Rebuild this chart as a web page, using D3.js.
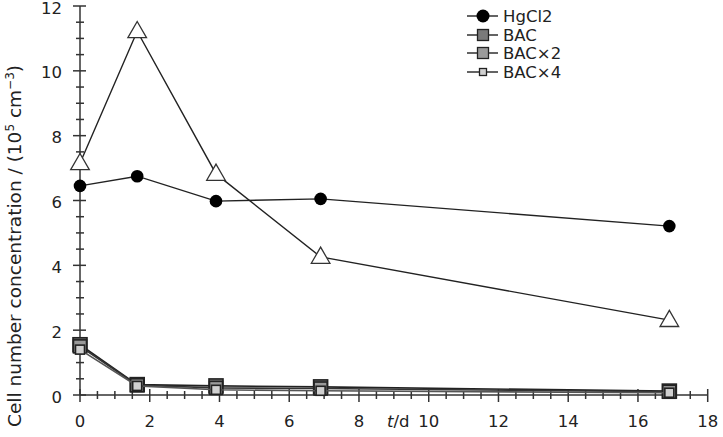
<!DOCTYPE html>
<html><head><meta charset="utf-8">
<script src="https://cdn.jsdelivr.net/npm/d3@7"></script>
<style>body{margin:0;background:#fff}svg{display:block}text{font-family:"DejaVu Sans",sans-serif;fill:#222}</style>
</head><body>
<svg id="c" width="723" height="437"></svg>
<script>
const days = [0, 1.64, 3.9, 6.9, 16.9];
const triangleSeries = [7.15, 11.22, 6.82, 4.26, 2.31];
const hgcl2 = [6.45, 6.75, 5.98, 6.05, 5.21];
const bac = [1.55, 0.32, 0.28, 0.25, 0.12];
const bac2 = [1.5, 0.3, 0.22, 0.2, 0.1];
const bac4 = [1.4, 0.28, 0.16, 0.13, 0.07];
const legendLabels = ["HgCl2", "BAC", "BAC×2", "BAC×4"];
const xTicks = [0, 2, 4, 6, 8, 10, 12, 14, 16, 18];
const yTicks = [0, 2, 4, 6, 8, 10, 12];

const svg = d3.select("#c");
const x = d3.scaleLinear().domain([0, 18]).range([80, 707.7]);
const y = d3.scaleLinear().domain([0, 12]).range([395, 6]);
const axisColor = "#333";

svg.append("line").attr("x1", x(0)).attr("x2", x(18)).attr("y1", y(0)).attr("y2", y(0)).attr("stroke", axisColor).attr("stroke-width", 1.5);
svg.append("line").attr("x1", x(0)).attr("x2", x(0)).attr("y1", y(0)).attr("y2", y(12)).attr("stroke", axisColor).attr("stroke-width", 1.5);

const xMinor = d3.range(0, 18.01, 0.5);
svg.append("g").selectAll("line").data(xMinor).join("line")
  .attr("x1", d => x(d)).attr("x2", d => x(d))
  .attr("y1", d => y(0) - (d % 2 === 0 ? 6 : 4))
  .attr("y2", d => y(0) + (d % 2 === 0 ? 7 : 4))
  .attr("stroke", axisColor).attr("stroke-width", 1.5);
const yMinor = d3.range(0, 12.01, 0.5);
svg.append("g").selectAll("line").data(yMinor).join("line")
  .attr("y1", d => y(d)).attr("y2", d => y(d))
  .attr("x1", d => x(0) - (d % 2 === 0 ? 7 : 4))
  .attr("x2", d => x(0) + (d % 2 === 0 ? 6 : 4))
  .attr("stroke", axisColor).attr("stroke-width", 1.5);

svg.append("g").selectAll("text").data(xTicks).join("text")
  .attr("x", d => x(d)).attr("y", 427).attr("text-anchor", "middle")
  .attr("font-size", 16.5).text(d => d);
svg.append("g").selectAll("text").data(yTicks).join("text")
  .attr("x", 62).attr("y", d => y(d) + 7.5).attr("text-anchor", "end")
  .attr("font-size", 16.5).text(d => d);

const xl = svg.append("text").attr("x", 387).attr("y", 427).attr("font-size", 16.5);
xl.append("tspan").attr("font-style", "italic").text("t");
xl.append("tspan").text("/d");

const yl = svg.append("text").attr("transform", "translate(21,246) rotate(-90)")
  .attr("text-anchor", "middle").attr("font-size", 18.5);
yl.append("tspan").text("Cell number concentration / (10");
yl.append("tspan").attr("font-size", 12).attr("dy", -7).text("5");
yl.append("tspan").attr("dy", 7).text(" cm");
yl.append("tspan").attr("font-size", 12).attr("dy", -7).text("−3");
yl.append("tspan").attr("dy", 7).text(")");

const line = d3.line().x(d => x(d[0])).y(d => y(d[1]));
const pts = vals => days.map((d, i) => [d, vals[i]]);

function drawLine(vals, color, w) {
  svg.append("path").attr("d", line(pts(vals))).attr("fill", "none")
    .attr("stroke", color).attr("stroke-width", w);
}

drawLine(triangleSeries, "#222", 1.4);
const tri = d3.symbol().type(d3.symbolTriangle).size(150);
svg.append("g").selectAll("path").data(pts(triangleSeries)).join("path")
  .attr("d", tri).attr("transform", d => `translate(${x(d[0])},${y(d[1]) + 1})`)
  .attr("fill", "#fff").attr("stroke", "#333").attr("stroke-width", 1.3);

drawLine(hgcl2, "#222", 1.4);
svg.append("g").selectAll("circle").data(pts(hgcl2)).join("circle")
  .attr("cx", d => x(d[0])).attr("cy", d => y(d[1])).attr("r", 6.3).attr("fill", "#000");

const squareDefs = [
  {vals: bac, fill: "#7a7a7a", size: 14, line: "#222"},
  {vals: bac2, fill: "#9a9a9a", size: 13, line: "#333"},
  {vals: bac4, fill: "#d0d0d0", size: 9, line: "#555"}
];
squareDefs.forEach(s => {
  drawLine(s.vals, s.line, 1.6);
  svg.append("g").selectAll("rect").data(pts(s.vals)).join("rect")
    .attr("x", d => x(d[0]) - s.size / 2).attr("y", d => y(d[1]) - s.size / 2)
    .attr("width", s.size).attr("height", s.size)
    .attr("fill", s.fill).attr("stroke", "#222").attr("stroke-width", 1.6);
});

const legY = [16, 35, 53, 72];
const lg = svg.append("g");
legendLabels.forEach((lab, i) => {
  const yy = legY[i];
  lg.append("line").attr("x1", 467).attr("x2", 498).attr("y1", yy).attr("y2", yy).attr("stroke", "#222").attr("stroke-width", 1.4);
  if (i === 0) {
    lg.append("circle").attr("cx", 483).attr("cy", yy).attr("r", 6.5).attr("fill", "#000");
  } else {
    const s = squareDefs[i - 1];
    const sz = i === 3 ? 7 : 11;
    lg.append("rect").attr("x", 483 - sz / 2).attr("y", yy - sz / 2).attr("width", sz).attr("height", sz)
      .attr("fill", s.fill).attr("stroke", "#222").attr("stroke-width", 1.3);
  }
  lg.append("text").attr("x", 503).attr("y", yy + 6).attr("font-size", 16.5).text(lab);
});
</script>
</body></html>
